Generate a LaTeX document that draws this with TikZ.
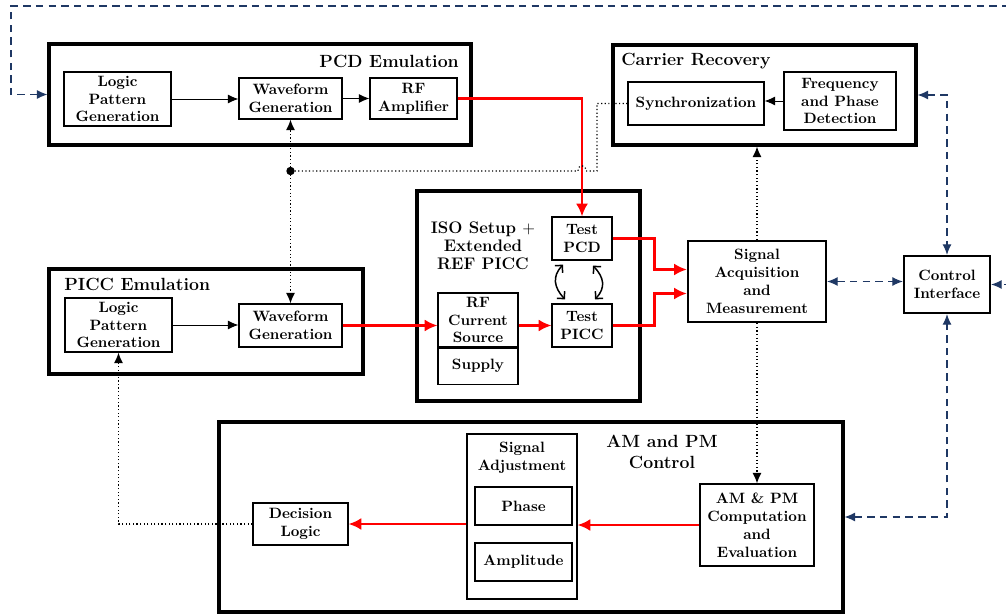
\documentclass[tikz,border=0pt]{standalone}
\usetikzlibrary{arrows.meta,calc}
\definecolor{navy}{RGB}{31,56,100}
\begin{document}
\begin{tikzpicture}[x=0.0235cm,y=-0.0235cm,
  font=\bfseries,
  outer/.style={draw, line width=2.1pt, inner sep=0pt},
  blk/.style={draw, line width=0.8pt, align=center, inner sep=0pt},
  sz/.style 2 args={minimum width=#1*0.0235cm, minimum height=#2*0.0235cm},
  title/.style={font=\fontsize{11.8}{13.6}\selectfont\bfseries, inner sep=0pt},
  flow/.style={-{Latex[length=7pt,width=6pt]}, line width=0.6pt},
  sig/.style={-{Latex[length=8.5pt,width=8pt]}, red, line width=1.5pt},
  ctl/.style={{Latex[length=7pt,width=6pt]}-{Latex[length=7pt,width=6pt]}, navy, dash pattern=on 5pt off 3.5pt, line width=0.7pt},
  syncline/.style={line width=0.8pt, dash pattern=on 0.8pt off 1.6pt},
  sync/.style={syncline, -{Latex[length=7pt,width=6pt]}},
  swap/.style={{Straight Barb[length=3.5pt,width=7pt]}-{Straight Barb[length=3.5pt,width=7pt]}, line width=1pt},
]
\useasboundingbox (0,0) rectangle (1006,614);

% ---- PCD emulation ----
\node[outer, sz={422}{101}] (pcd) at (260,94.5) {};
\node[title, anchor=east] (pcdt) at (459,61) {PCD Emulation};
\node[blk, sz={107}{54}] (plpg) at (117.5,99) {Logic\\Pattern\\Generation};
\node[blk, sz={103}{41}] (pwave) at (290.5,98.5) {Waveform\\Generation};
\node[blk, sz={87}{41}] (rfamp) at (413.5,98.5) {RF\\Amplifier};

% ---- Carrier recovery ----
\node[outer, sz={303}{100}] (carrier) at (764.5,95) {};
\node[title, anchor=west] (carriert) at (621,61) {Carrier Recovery};
\node[blk, sz={136}{43}] (sync) at (696,103.5) {Synchronization};
\node[blk, sz={112}{58}] (fpd) at (840,101) {Frequency\\and Phase\\Detection};

% ---- PICC emulation ----
\node[outer, sz={314}{105}] (picc) at (206,321.5) {};
\node[title, anchor=west] (picct) at (64,284) {PICC Emulation};
\node[blk, sz={107}{54}] (qlpg) at (118.5,325) {Logic\\Pattern\\Generation};
\node[blk, sz={103}{43}] (qwave) at (290.5,325.5) {Waveform\\Generation};

% ---- ISO setup ----
\node[outer, sz={223}{210}] (iso) at (528.5,296) {};
\node[title, align=center, font=\fontsize{11.2}{12.2}\selectfont\bfseries] (isot) at (483,246) {ISO Setup $+$\\Extended\\REF PICC};
\node[blk, sz={60}{43}] (tpcd) at (582,238.5) {Test\\PCD};
\node[blk, sz={60}{43}] (tpicc) at (582,325.5) {Test\\PICC};
\node[blk, sz={80}{54}] (rfcs) at (478,320) {RF\\Current\\Source};
\node[blk, sz={80}{36}, anchor=north] (supply) at (rfcs.south) {Supply};

% ---- measurement and interface ----
\node[outer, sz={138}{81}, align=center, line width=1.6pt] (sam) at (757,281.5) {Signal\\Acquisition\\and\\Measurement};
\node[outer, sz={86}{57}, align=center, line width=1.6pt] (ci) at (947,284.5) {Control\\Interface};

% ---- AM and PM control ----
\node[outer, sz={624}{190}] (amc) at (531,517) {};
\node[title, align=center] (amct) at (662,452) {AM and PM\\Control};
\node[blk, sz={110}{165}] (adj) at (522,516.5) {};
\node[align=center, inner sep=0pt] (adjt) at (522,457.5) {Signal\\Adjustment};
\node[blk, sz={97}{38}] (phase) at (523.5,506) {Phase};
\node[blk, sz={97}{38}] (ampl) at (523.5,562) {Amplitude};
\node[blk, sz={114}{82}] (amcomp) at (757,525) {AM \& PM\\Computation\\and\\Evaluation};
\node[blk, sz={95}{42}] (dec) at (300.5,524) {Decision\\Logic};

% ---- plain flow ----
\draw[flow] (plpg.east) -- (plpg.east -| pwave.west);
\draw[flow] (pwave.east) -- (rfamp.west);
\draw[flow] (fpd.west) -- (fpd.west -| sync.east);
\draw[flow] (qlpg.east) -- (qlpg.east -| qwave.west);

% ---- RF signal path ----
\draw[sig] (rfamp.east) -| (tpcd.north);
\draw[sig] (qwave.east) -- (qwave.east -| rfcs.west);
\draw[sig] (tpicc.west -| rfcs.east) -- (tpicc.west);
\draw[sig] (tpcd.east) -- ++(42,0) |- ($(sam.west)+(0,-12)$);
\draw[sig] (tpicc.east) -- ++(42,0) |- ($(sam.west)+(0,12)$);
\draw[sig] (amcomp.west) -- (amcomp.west -| adj.east);
\draw[sig] (dec.east -| adj.west) -- (dec.east);

% ---- coupling between test devices ----
\draw[swap] ($(tpcd.south)+(-19,4)$) .. controls +(-11,12) and +(-11,-12) .. ($(tpicc.north)+(-17,-4)$);
\draw[swap] ($(tpcd.south)+(11,5)$) .. controls +(11,12) and +(11,-12) .. ($(tpicc.north)+(13,-4)$);

% ---- synchronisation (dotted) ----
\coordinate (jn) at (290.5,171);
\coordinate (bend) at (597,171);
\coordinate (hopR) at (586,171);
\coordinate (hopL) at (578,171);
\draw[syncline] (sync.west) -| (bend) -- (hopR) .. controls +(0,-7) and +(0,-7) .. (hopL) -- (jn);
\fill (jn) circle (2.8pt);
\draw[sync] (jn) -- (pwave.south);
\draw[sync] (jn) -- (qwave.north);
\draw[sync] (sam.north) -- (sam.north |- carrier.south);
\draw[sync] (sam.south) -- (amcomp.north);
\draw[sync] (dec.west) -| (qlpg.south);

% ---- control bus (dashed) ----
\coordinate (loopL) at (11,6);
\coordinate (loopR) at (1020,6);
\draw[ctl] (sam.east) -- (sam.east -| ci.west);
\draw[ctl] (carrier.east) -| (ci.north);
\draw[ctl] (amc.east) -| (ci.south);
\draw[ctl] (pcd.west) -| (loopL) -- (loopR) |- (ci.east);
\end{tikzpicture}
\end{document}
